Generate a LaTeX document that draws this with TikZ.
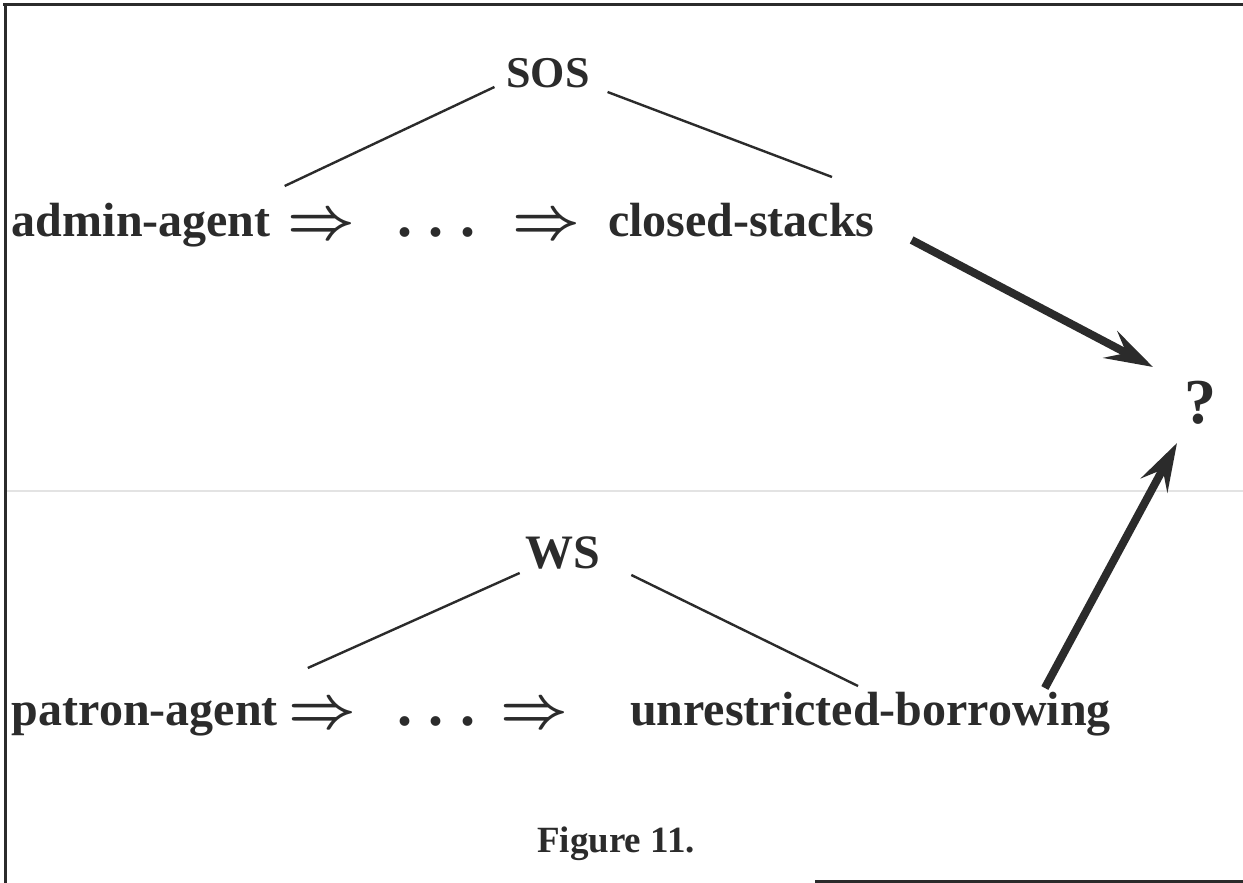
\documentclass[tikz,border=0pt]{standalone}
\usepackage{fontspec}
\setmainfont{Liberation Serif}
\usetikzlibrary{arrows.meta,calc}
\definecolor{ink}{HTML}{2B2B2B}
\tikzset{
  label text/.style={inner sep=0pt, outer sep=0pt, text=ink, font=\bfseries\fontsize{48}{58}\selectfont},
  dot text/.style={inner sep=0pt, outer sep=0pt, text=ink, font=\bfseries\fontsize{60}{70}\selectfont},
  implies/.style={inner sep=0pt, outer sep=0pt, text=ink},
  branch/.style={draw=ink, line width=2.4pt},
  thick arrow/.style={draw=ink, line width=8pt, -{Stealth[length=48pt,width=30pt,inset=18pt]}},
  frame line/.style={draw=ink, line width=3pt},
}
\newcommand{\impl}{\scalebox{5.9}{\boldmath$\Rightarrow$}}
\newcommand{\spacedots}{.\hspace{17pt}.\hspace{17pt}.}
\begin{document}
\begin{tikzpicture}[x=1pt,y=-1pt]
\useasboundingbox (0,0) rectangle (1243,883);
\fill[white] (0,0) rectangle (1243,883);

% partial frame and the faint rule across the sheet
\draw[frame line] (3,5) -- (1243,5);
\draw[frame line] (5,5) -- (5,883);
\draw[frame line] (815,881) -- (1243,881);
\draw[gray!22, line width=1.5pt] (7,491) -- (1243,491);

% upper chain
\node[label text, font=\bfseries\fontsize{44}{52}\selectfont, anchor=base] (sos) at (548,88) {SOS};
\node[label text, anchor=base west] (admin) at (12,236) {admin-agent};
\node[implies, anchor=west] (imp1) at (287,227) {\impl};
\node[dot text, anchor=base west] (dots1) at (397,236) {\spacedots};
\node[implies, anchor=west] (imp2) at (512,227) {\impl};
\node[label text, anchor=base west] (closed) at (608,236) {closed-stacks};

% lower chain
\node[label text, anchor=base] (ws) at (563,568) {WS};
\node[label text, anchor=base west] (patron) at (12,725) {patron-agent};
\node[implies, anchor=west] (imp3) at (288,716) {\impl};
\node[dot text, anchor=base west] (dots2) at (397,725) {\spacedots};
\node[implies, anchor=west] (imp4) at (500,716) {\impl};
\node[label text, anchor=base west] (unres) at (630,725) {unrestricted-borrowing};

% result
\node[inner sep=0pt, text=ink, font=\bfseries\fontsize{64}{76}\selectfont, anchor=base] (q) at (1200,423) {?};

% caption
\node[inner sep=0pt, text=ink, font=\bfseries\fontsize{37}{44}\selectfont, anchor=base] (cap) at (616,852) {Figure 11.};

% tree branches
\draw[branch] ($(sos.base west)+(-12,-1)$) -- ($(admin.base east)+(14,-50)$);
\draw[branch] ($(sos.base east)+(18,4)$) -- ($(closed.base west)+(224,-59)$);
\draw[branch] ($(ws.base west)+(-6,5)$) -- ($(patron.base east)+(30,-57)$);
\draw[branch] ($(ws.base east)+(31,7)$) -- ($(unres.base west)+(228,-39)$);

% thick arrows into the question mark
\draw[thick arrow] ($(closed.base east)+(37,4)$) -- ($(q.base)+(-47,-56)$);
\draw[thick arrow] ($(unres.base east)+(-66,-37)$) -- ($(q.base)+(-23,20)$);
\end{tikzpicture}
\end{document}
